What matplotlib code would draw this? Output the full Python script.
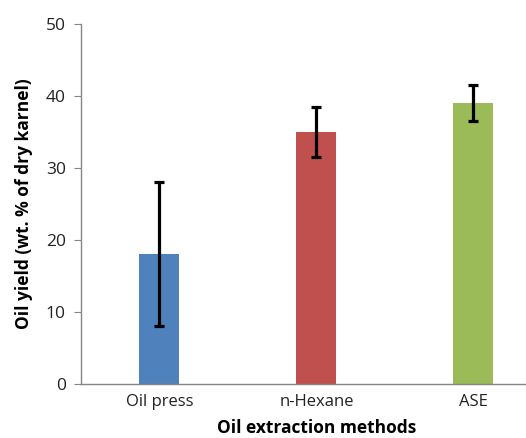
import matplotlib
matplotlib.use("Agg")
import matplotlib.pyplot as plt

methods = ["Oil press", "n-Hexane", "ASE"]
yields = [18, 35, 39]
errors = [10, 3.5, 2.5]
colors = ["#4F81BD", "#C0504D", "#9BBB59"]

plt.rcParams['font.family'] = ['Open Sans', 'DejaVu Sans']

fig = plt.figure(figsize=(5.26, 4.38), dpi=100)
ax = fig.add_axes([0.154, 0.1233, 0.895, 0.8217])

x = range(len(methods))
ax.bar(x, yields, width=0.255, color=colors, zorder=2)
ax.errorbar(x, yields, yerr=errors, fmt='none', ecolor='black',
            elinewidth=2.3, capsize=3.3, capthick=2.3, zorder=3)

ax.set_xlim(-0.5, 2.5)
ax.set_ylim(0, 50)
ax.set_yticks([0, 10, 20, 30, 40, 50])
ax.set_xticks(list(x))
ax.set_xticklabels(methods)

for s in ['top', 'right']:
    ax.spines[s].set_visible(False)
for s in ['left', 'bottom']:
    ax.spines[s].set_color('#868686')
    ax.spines[s].set_linewidth(1)

ax.tick_params(axis='y', length=5, color='#868686', labelsize=12.5, labelcolor='#222222', pad=6)
ax.tick_params(axis='x', length=0, labelsize=12, labelcolor='#222222', pad=7)

ax.set_ylabel("Oil yield (wt. % of dry karnel)", fontsize=12.5, fontweight='bold', labelpad=9)
ax.set_xlabel("Oil extraction methods", fontsize=12.5, fontweight='bold', labelpad=7)

fig.savefig("out.png", dpi=100)
